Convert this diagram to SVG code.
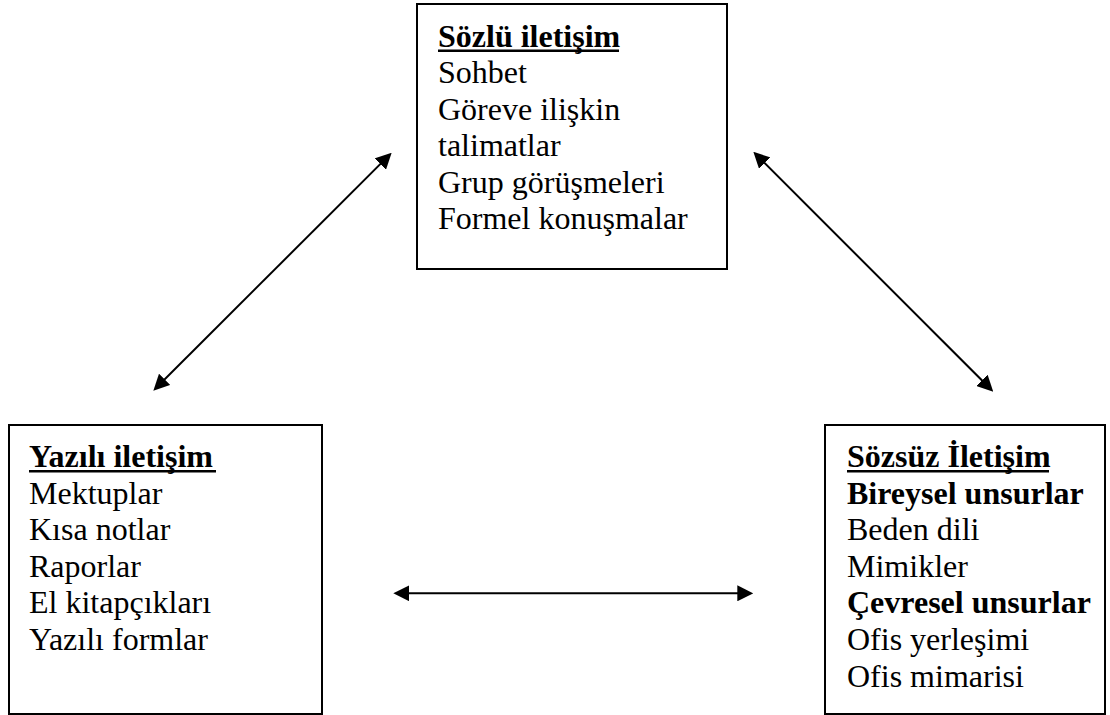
<svg xmlns="http://www.w3.org/2000/svg" width="1110" height="715" viewBox="0 0 1110 715">
<style>
.box{fill:#fff;stroke:#000;stroke-width:2}
.t{font-family:"Liberation Serif","Times New Roman",serif;font-size:32px;fill:#000}
.b{font-weight:bold}
.ul{fill:#000}
.c{stroke:#000;stroke-width:2;fill:none;marker-start:url(#ah);marker-end:url(#ah)}
</style>
<defs>
<marker id="ah" markerUnits="userSpaceOnUse" markerWidth="16" markerHeight="16" refX="8" refY="8" orient="auto-start-reverse" viewBox="0 0 16 16">
<path d="M0,0 L16,8 L0,16 z" fill="#000"/>
</marker>
</defs>
<rect width="1110" height="715" fill="#fff"/>
<g id="connectors">
<line class="c" x1="159" y1="385" x2="386" y2="158.4"/>
<line class="c" x1="759" y1="157.4" x2="987.6" y2="386"/>
<line class="c" x1="401.3" y1="593.3" x2="745.3" y2="593.3"/>
</g>
<g id="sozlu">
<rect class="box" x="417" y="4" width="310" height="265"/>
<text class="t b" x="438" y="46.5">Sözlü iletişim</text>
<rect class="ul" x="438" y="49.5" width="181" height="2.5"/>
<text class="t" x="438" y="83">Sohbet</text>
<text class="t" x="438" y="119.6">Göreve ilişkin</text>
<text class="t" x="438" y="156.2">talimatlar</text>
<text class="t" x="438" y="192.8">Grup görüşmeleri</text>
<text class="t" x="438" y="229.4">Formel konuşmalar</text>
</g>
<g id="yazili">
<rect class="box" x="9" y="425" width="313" height="289"/>
<text class="t b" x="29" y="467">Yazılı iletişim</text>
<rect class="ul" x="29" y="470" width="187" height="2.5"/>
<text class="t" x="29" y="503.6">Mektuplar</text>
<text class="t" x="29" y="540.2">Kısa notlar</text>
<text class="t" x="29" y="576.8">Raporlar</text>
<text class="t" x="29" y="613.4">El kitapçıkları</text>
<text class="t" x="29" y="650">Yazılı formlar</text>
</g>
<g id="sozsuz">
<rect class="box" x="825" y="425" width="280" height="289"/>
<text class="t b" x="847" y="467">Sözsüz İletişim</text>
<rect class="ul" x="847" y="470" width="202" height="2.5"/>
<text class="t b" x="847" y="503.6">Bireysel unsurlar</text>
<text class="t" x="847" y="540.2">Beden dili</text>
<text class="t" x="847" y="576.8">Mimikler</text>
<text class="t b" x="847" y="613.4">Çevresel unsurlar</text>
<text class="t" x="847" y="650">Ofis yerleşimi</text>
<text class="t" x="847" y="686.6">Ofis mimarisi</text>
</g>
</svg>
